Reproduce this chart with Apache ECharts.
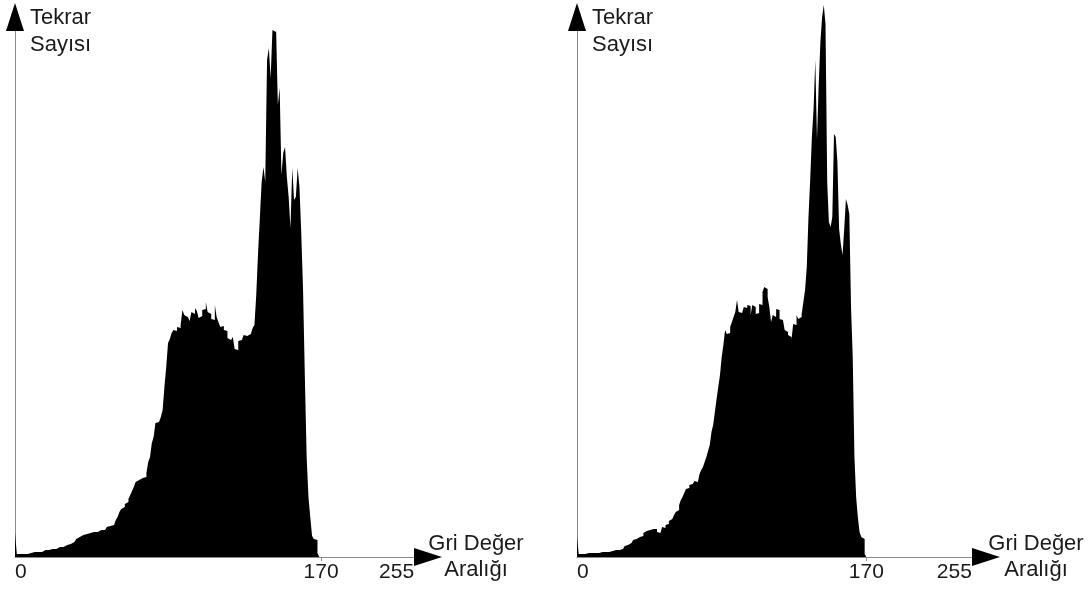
<!DOCTYPE html>
<html>
<head>
<meta charset="utf-8">
<script src="https://cdn.jsdelivr.net/npm/echarts@6/dist/echarts.min.js"></script>
<style>
html,body{margin:0;padding:0;background:#ffffff;}
#chart{width:1091px;height:592px;}
</style>
</head>
<body>
<div id="chart"></div>
<script>
// Gray levels 0..169 (one bin per level)
const leftCounts = [
  24,3,3,3,3,3,3,4,4,4,
  5,5,5,5,5,6,7,7,7,7,
  8,8,8,9,10,10,10,11,12,11,
  13,14,15,16,18,20,19,22,21,23,
  25,24,26,25,26,25,27,27,28,27,
  28,30,31,31,32,34,37,40,45,48,
  50,53,55,58,62,66,70,75,77,76,
  79,80,80,84,95,100,114,120,134,135,
  136,140,147,170,190,214,218,224,227,226,
  230,229,232,247,242,240,239,236,245,243,
  249,246,239,241,247,248,255,245,243,238,
  237,252,240,235,230,231,227,226,219,217,
  216,220,208,207,216,217,218,222,221,222,
  223,222,229,232,262,304,339,375,390,375,
  497,509,479,527,525,530,452,469,382,404,
  410,380,360,329,389,357,360,389,370,324,
  267,180,100,60,40,21,18,17,4,0
];
const rightCounts = [
  20,3,3,4,3,3,4,3,4,4,
  4,4,4,4,5,5,5,6,5,6,
  6,6,7,6,7,8,8,9,11,12,
  13,14,15,17,18,19,20,19,21,24,
  26,27,27,26,28,27,28,25,24,26,
  30,29,32,33,36,38,39,42,45,47,
  52,57,60,64,68,69,72,73,74,76,
  75,77,83,87,90,95,100,106,112,125,
  132,145,158,170,182,200,212,227,223,224,
  230,235,240,245,257,245,244,246,250,249,
  252,251,242,252,250,243,244,253,252,265,
  270,268,260,250,235,242,240,248,247,238,
  237,235,227,225,222,220,217,233,232,242,
  238,240,243,255,267,290,340,377,420,448,
  497,418,472,515,540,552,533,375,335,330,
  340,423,420,395,328,313,302,328,358,352,
  343,250,200,100,60,40,25,20,18,3
];
const xTickLabels = ['0', '170', '255'];
const yAxisTitle = 'Tekrar\nSayısı';
const xAxisTitle = 'Gri Değer\nAralığı';

function toSteps(counts) {
  const d = counts.map((v, i) => [i, v]);
  d.push([counts.length, 0]);
  return d;
}

const FONT = 'Liberation Sans, Arial, sans-serif';
const AXIS_GRAY = '#8a8a8a';
const TEXT = '#1a1a1a';
const FS = 22;

// per-panel axis geometry
const panels = [
  { grid: { left: 15, right: 663, top: 17, bottom: 35 }, xMax: 229.4, endTick: 221.7, yMax: 540, nameGap: 48 },
  { grid: { left: 577, right: 105, top: 17, bottom: 35 }, xMax: 240.3, endTick: 232, yMax: 540, nameGap: 50 }
];

const grids = [], xAxes = [], yAxes = [], series = [];
panels.forEach((p, k) => {
  grids.push(Object.assign({ containLabel: false }, p.grid));
  const tickVals = [0, 170, p.endTick];
  const labelOf = v => xTickLabels[tickVals.indexOf(v)];
  xAxes.push({
    gridIndex: k, type: 'value', min: 0, max: p.xMax,
    axisLine: { show: true, onZero: false, lineStyle: { color: AXIS_GRAY, width: 1 } },
    axisTick: { show: true, customValues: [170, p.endTick], length: 4, inside: false, lineStyle: { color: AXIS_GRAY, width: 1 } },
    axisLabel: {
      show: true, customValues: tickVals, formatter: v => labelOf(v),
      alignMinLabel: 'left', alignMaxLabel: 'right',
      fontFamily: FONT, fontSize: 21, color: TEXT, margin: 5
    },
    splitLine: { show: false },
    name: xAxisTitle, nameLocation: 'end', nameGap: p.nameGap,
    nameTextStyle: { fontFamily: FONT, fontSize: FS, lineHeight: 26, color: TEXT, align: 'center', verticalAlign: 'middle', padding: [0, 0, 16, 0] }
  });
  xAxes.push({
    gridIndex: k, type: 'value', min: 0, max: p.xMax, position: 'bottom',
    axisLine: { show: true, onZero: false, symbol: ['none', 'triangle'], symbolSize: [18, 28], lineStyle: { color: '#000', width: 0 } },
    axisTick: { show: false }, axisLabel: { show: false }, splitLine: { show: false }
  });
  yAxes.push({
    gridIndex: k, type: 'value', min: 0, max: p.yMax,
    axisLine: { show: true, onZero: false, lineStyle: { color: AXIS_GRAY, width: 1 } },
    axisTick: { show: false }, axisLabel: { show: false }, splitLine: { show: false },
    name: yAxisTitle, nameLocation: 'end', nameGap: 13,
    nameTextStyle: { fontFamily: FONT, fontSize: FS, lineHeight: 27, color: TEXT, align: 'left', verticalAlign: 'top', padding: [0, 0, 0, 15] }
  });
  yAxes.push({
    gridIndex: k, type: 'value', min: 0, max: p.yMax, position: 'left',
    axisLine: { show: true, onZero: false, symbol: ['none', 'triangle'], symbolSize: [18, 28], lineStyle: { color: '#000', width: 0 } },
    axisTick: { show: false }, axisLabel: { show: false }, splitLine: { show: false }
  });
});

series.push({
  type: 'line', xAxisIndex: 0, yAxisIndex: 0, data: toSteps(leftCounts), step: 'end',
  showSymbol: false, symbol: 'none', clip: false,
  lineStyle: { width: 0, color: '#000' }, areaStyle: { color: '#000', opacity: 1 }, z: 1
});
series.push({
  type: 'line', xAxisIndex: 2, yAxisIndex: 2, data: toSteps(rightCounts), step: 'end',
  showSymbol: false, symbol: 'none', clip: false,
  lineStyle: { width: 0, color: '#000' }, areaStyle: { color: '#000', opacity: 1 }, z: 1
});

const chart = echarts.init(document.getElementById('chart'), null, { renderer: 'canvas' });
chart.setOption({
  animation: false,
  backgroundColor: '#ffffff',
  grid: grids, xAxis: xAxes, yAxis: yAxes, series: series
});
</script>
</body>
</html>
